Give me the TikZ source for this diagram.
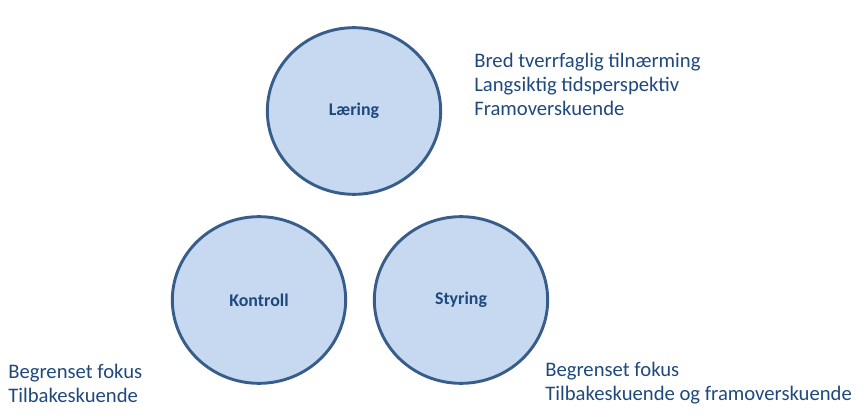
\documentclass[tikz,border=0pt]{standalone}
\usepackage{xcolor}
\usepackage{fontspec}
\setmainfont{Carlito}
\definecolor{fyll}{HTML}{C6D9F1}
\definecolor{kant}{HTML}{385D8A}
\definecolor{tekst}{HTML}{1F497D}
\usepackage{tikz}
\usetikzlibrary{shapes.geometric}

\begin{document}
\begin{tikzpicture}[x=0.75pt, y=-0.75pt,
    sirkel/.style={ellipse, draw=kant, fill=fyll, line width=2.2pt, minimum width=130pt, minimum height=125pt, text=tekst, font=\fontsize{13.4}{15}\selectfont\bfseries},
    merknad/.style={anchor=west, align=left, inner sep=0pt, text=tekst, font=\fontsize{15.5}{18}\selectfont}]
                        \useasboundingbox (0, 0) rectangle (867, 420);

                        \node (L) at (354, 111) [sirkel] {Læring};
                        \node (K) at (259, 300) [sirkel] {Kontroll};
                        \node (S) at (461, 300) [sirkel] {Styring};

                        \node (Lt) at (474, 84) [merknad] {Bred tverrfaglig tilnærming\\Langsiktig tidsperspektiv\\Framoverskuende};
                        \node (Kt) at (8, 383) [merknad] {Begrenset fokus\\Tilbakeskuende};
                        \node (St) at (545, 383) [merknad] {Begrenset fokus\\Tilbakeskuende og framoverskuende};
                    \end{tikzpicture}
\end{document}
